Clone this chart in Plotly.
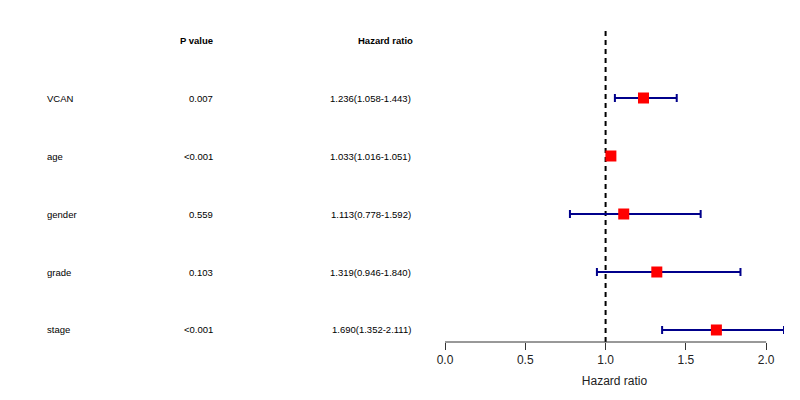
import plotly.graph_objects as go

variables = ["VCAN", "age", "gender", "grade", "stage"]
p_values = ["0.007", "<0.001", "0.559", "0.103", "<0.001"]
hr = [1.236, 1.033, 1.113, 1.319, 1.690]
hr_low = [1.058, 1.016, 0.778, 0.946, 1.352]
hr_high = [1.443, 1.051, 1.592, 1.840, 2.111]
tick_vals = [0.0, 0.5, 1.0, 1.5, 2.0]
tick_text = ["0.0", "0.5", "1.0", "1.5", "2.0"]

n = len(variables)
rows = [n - i for i in range(n)]  # VCAN at top
hr_text = [f"{h:.3f}({l:.3f}-{u:.3f})" for h, l, u in zip(hr, hr_low, hr_high)]

W, H = 800, 400
OFF = 8  # page body margin
ML, MR, MT, MB = 0, 24, 20, 66
paper_w = W - ML - MR
def px(x):
    return (x - OFF) / paper_w

FONT = "Liberation Sans, Arial, Helvetica, sans-serif"

fig = go.Figure()
fig.add_trace(go.Scatter(
    x=hr, y=rows, mode="markers",
    marker=dict(symbol="square", size=11, color="#FF0000", line=dict(width=0)),
    error_x=dict(type="data", symmetric=False,
                 array=[u - h for u, h in zip(hr_high, hr)],
                 arrayminus=[h - l for h, l in zip(hr, hr_low)],
                 color="#00008B", thickness=2, width=4),
    cliponaxis=False, showlegend=False, hoverinfo="skip",
))

# reference line at HR = 1
fig.add_shape(type="line", xref="x", yref="paper", x0=1, x1=1, y0=0, y1=1,
              line=dict(color="black", width=2, dash="5px,4px"), layer="below")
# axis line from first to last tick
fig.add_shape(type="line", xref="x", yref="paper", x0=tick_vals[0], x1=tick_vals[-1],
              y0=0, y1=0, line=dict(color="#333333", width=1))

tf = dict(size=9.5, color="black", family=FONT)
annotations = []
annotations.append(dict(text="<b>P value</b>", x=px(215), y=n + 1, xref="paper", yref="y",
                        xanchor="right", yanchor="middle", showarrow=False, font=tf))
annotations.append(dict(text="<b>Hazard ratio</b>", x=px(415), y=n + 1, xref="paper", yref="y",
                        xanchor="right", yanchor="middle", showarrow=False, font=tf))
for r, v, p, t in zip(rows, variables, p_values, hr_text):
    annotations.append(dict(text=v, x=px(45), y=r, xref="paper", yref="y",
                            xanchor="left", yanchor="middle", showarrow=False, font=tf))
    annotations.append(dict(text=p, x=px(215), y=r, xref="paper", yref="y",
                            xanchor="right", yanchor="middle", showarrow=False, font=tf))
    annotations.append(dict(text=t, x=px(413), y=r, xref="paper", yref="y",
                            xanchor="right", yanchor="middle", showarrow=False, font=tf))

fig.update_layout(
    width=W, height=H,
    margin=dict(l=ML, r=MR, t=MT, b=MB, pad=0, autoexpand=False),
    paper_bgcolor="white", plot_bgcolor="white",
    font=dict(family=FONT, color="black"),
    showlegend=False,
    annotations=annotations,
    xaxis=dict(domain=[px(445), 1], range=[0, max(hr_high)], automargin=False,
               showgrid=False, zeroline=False, showline=False,
               ticks="outside", ticklen=7, tickcolor="#333333", tickwidth=1,
               tickvals=tick_vals, ticktext=tick_text,
               tickfont=dict(size=12, color="#222222", family=FONT),
               title=dict(text="Hazard ratio", font=dict(size=12, color="#222222", family=FONT),
                          standoff=10)),
    yaxis=dict(range=[0.793, n + 1.207], visible=False, automargin=False),
)

fig.write_html("out.html")
